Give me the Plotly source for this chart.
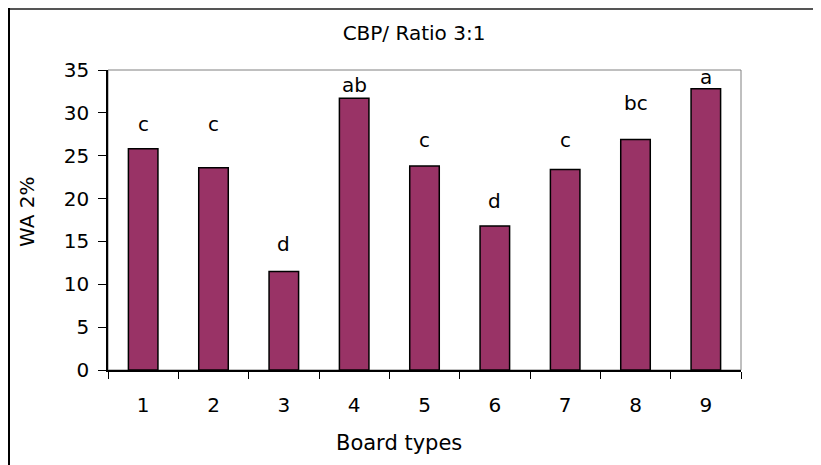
import plotly.graph_objects as go

board_types = ["1", "2", "3", "4", "5", "6", "7", "8", "9"]
wa_values = [25.8, 23.6, 11.5, 31.7, 23.8, 16.8, 23.4, 26.9, 32.8]
group_letters = ["c", "c", "d", "ab", "c", "d", "c", "bc", "a"]
letter_y = [28.7, 28.7, 14.7, 33.25, 26.8, 19.7, 26.8, 31.1, 34.2]
y_ticks = [0, 5, 10, 15, 20, 25, 30, 35]

FONT = "DejaVu Sans, Arial, sans-serif"
OFF = 8  # browser body margin
W, H = 821 - OFF, 465 - OFF
L, R, T = 100, 80, 62
B = H - (370 - OFF)
pw, ph = W - L - R, H - T - B

def px_x(p):
    return (p - OFF - L) / pw

def px_y(p):
    return (H - B - (p - OFF)) / ph

fig = go.Figure()
fig.add_trace(go.Bar(
    x=board_types, y=wa_values,
    marker=dict(color="#993366", line=dict(color="black", width=1.5)),
    width=0.42,
))

for i, (ly, lt) in enumerate(zip(letter_y, group_letters)):
    fig.add_annotation(x=i, y=ly, text=lt, showarrow=False,
                       xref="x", yref="y", yanchor="middle",
                       font=dict(family=FONT, size=20, color="black"))

fig.add_annotation(x=px_x(399), y=px_y(443), xref="paper", yref="paper",
                   text="Board types", showarrow=False, yanchor="middle",
                   xanchor="center",
                   font=dict(family=FONT, size=21, color="black"))
fig.add_annotation(x=px_x(27), y=px_y(212), xref="paper", yref="paper",
                   text="WA 2%", showarrow=False, textangle=-90,
                   xanchor="center", yanchor="middle",
                   font=dict(family=FONT, size=20, color="black"))

fig.add_shape(type="rect", xref="paper", yref="paper", x0=0, x1=1, y0=0, y1=1,
              line=dict(color="#808080", width=1), layer="below")
fig.add_shape(type="line", xref="paper", yref="paper",
              x0=px_x(8.5), x1=px_x(830), y0=px_y(9), y1=px_y(9),
              line=dict(color="#555555", width=2))
fig.add_shape(type="line", xref="paper", yref="paper",
              x0=px_x(9), x1=px_x(9), y0=px_y(8), y1=px_y(470),
              line=dict(color="black", width=2))

fig.update_layout(
    width=W, height=H,
    margin=dict(l=L, r=R, t=T, b=B),
    paper_bgcolor="white", plot_bgcolor="white",
    showlegend=False,
    title=dict(text="CBP/ Ratio 3:1", x=(414 - OFF) / W, xref="container", xanchor="center",
               y=1 - (33 - OFF) / H, yref="container", yanchor="middle",
               font=dict(family=FONT, size=20, color="black")),
    font=dict(family=FONT, color="black"),
)
fig.update_xaxes(type="category", range=[-0.5, 8.5], tickson="boundaries",
                 ticks="outside", ticklen=7,
                 tickcolor="black", showline=True, linecolor="black", linewidth=1.5,
                 showgrid=False, tickfont=dict(family=FONT, size=20, color="black"),
                 ticklabelstandoff=16)
fig.update_yaxes(range=[0, 35], tickvals=y_ticks, ticks="outside", ticklen=8,
                 tickcolor="black", showline=True, linecolor="black", linewidth=1.5,
                 showgrid=False, zeroline=False,
                 tickfont=dict(family=FONT, size=20, color="black"),
                 ticklabelstandoff=5)

fig.write_html("out.html")
